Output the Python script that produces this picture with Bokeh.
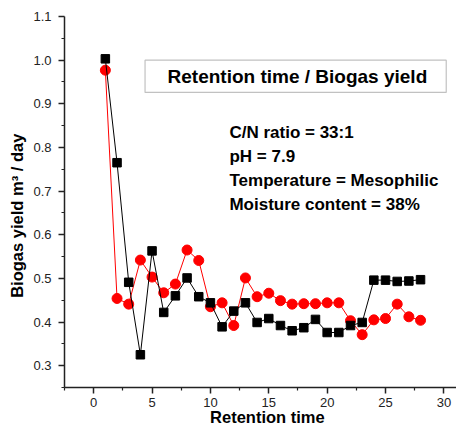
from bokeh.plotting import figure
from bokeh.models import Range1d, FixedTicker, PrintfTickFormatter, Label, BoxAnnotation
from bokeh.embed import file_html
from bokeh.resources import INLINE

days = list(range(1, 29))
black_yield = [1.003, 0.765, 0.491, 0.325, 0.563, 0.422, 0.460, 0.501, 0.458, 0.444,
               0.389, 0.425, 0.444, 0.399, 0.408, 0.392, 0.380, 0.387, 0.406, 0.376,
               0.376, 0.392, 0.399, 0.496, 0.496, 0.493, 0.494, 0.497]
red_yield = [0.977, 0.454, 0.441, 0.542, 0.503, 0.467, 0.487, 0.565, 0.541, 0.435,
             0.444, 0.392, 0.501, 0.458, 0.466, 0.449, 0.441, 0.442, 0.442, 0.444,
             0.444, 0.403, 0.371, 0.405, 0.408, 0.441, 0.412, 0.404]
x_ticks = [0, 5, 10, 15, 20, 25, 30]
y_ticks = [0.3, 0.4, 0.5, 0.6, 0.7, 0.8, 0.9, 1.0, 1.1]
title_text = "Retention time / Biogas yield"
notes = ["C/N ratio = 33:1", "pH = 7.9", "Temperature = Mesophilic", "Moisture content = 38%"]
x_label = "\u00a0\u00a0\u00a0Retention time"
y_label = "Biogas yield m\u00b3 / day" + "\u00a0" * 6

FONT = "Liberation Sans"

p = figure(width=456, height=430, output_backend="svg", toolbar_location=None,
           x_range=Range1d(-2.5, 31.08), y_range=Range1d(0.25, 1.1),
           min_border_left=64, min_border_right=0, min_border_top=16, min_border_bottom=43)
p.outline_line_color = None
p.grid.visible = False
p.background_fill_color = "white"
p.border_fill_color = "white"

for ax in (p.xaxis[0], p.yaxis[0]):
    ax.axis_line_width = 1.5
    ax.axis_line_color = "#222222"
    ax.major_tick_line_color = "#222222"
    ax.minor_tick_line_color = "#222222"
    ax.major_tick_line_width = 1.5
    ax.minor_tick_line_width = 1.2
    ax.major_tick_out = 6
    ax.major_tick_in = 0
    ax.minor_tick_out = 3
    ax.minor_tick_in = 0
    ax.major_label_text_font = FONT
    ax.major_label_text_font_size = "13px"
    ax.major_label_text_color = "#222222"
    ax.axis_label_text_font = FONT
    ax.axis_label_text_font_style = "bold"
    ax.axis_label_text_color = "black"

p.xaxis.ticker = FixedTicker(ticks=x_ticks, minor_ticks=[t + 2.5 for t in [-5] + x_ticks])
p.yaxis.ticker = FixedTicker(ticks=y_ticks, minor_ticks=[round(t + 0.05, 2) for t in [0.2] + y_ticks])
p.yaxis.formatter = PrintfTickFormatter(format="%.1f")
p.xaxis.major_label_standoff = 4
p.yaxis.major_label_standoff = 7
p.xaxis.axis_label = x_label
p.xaxis.axis_label_text_font_size = "16.5px"
p.xaxis.axis_label_standoff = -2
p.yaxis.axis_label = y_label
p.yaxis.axis_label_text_font_size = "16.5px"
p.yaxis.axis_label_standoff = 4

p.line(days, red_yield, line_color="#ff0000", line_width=1)
p.scatter(days, red_yield, marker="circle", size=10, fill_color="#ff0000", line_color="#ff0000")
p.line(days, black_yield, line_color="black", line_width=1)
p.scatter(days, black_yield, marker="square", size=8.5, fill_color="black", line_color="black")

box = BoxAnnotation(left=4.4, right=30.2, top=1.0, bottom=0.926,
                    fill_color="white", fill_alpha=1, line_color="#333333", line_width=1.2, level="underlay")
p.add_layout(box)
p.add_layout(Label(x=17.45, y=0.963, text=title_text, text_align="center", text_baseline="middle",
                   text_font=FONT, text_font_style="bold", text_font_size="19px", text_color="black"))

note_y = [0.835, 0.780, 0.724, 0.669]
for t, yy in zip(notes, note_y):
    p.add_layout(Label(x=11.63, y=yy, text=t, text_align="left", text_baseline="middle",
                       text_font=FONT, text_font_style="bold", text_font_size="17px", text_color="black"))

open("out.html", "w").write(file_html(p, INLINE))
